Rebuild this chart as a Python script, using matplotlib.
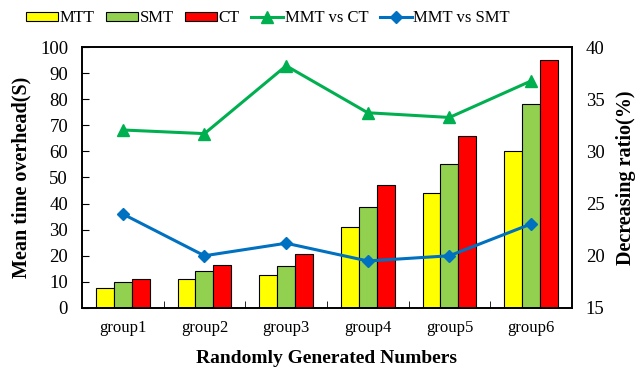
import numpy as np
import matplotlib
matplotlib.use('Agg')
import matplotlib.pyplot as plt

plt.rcParams['font.family'] = ['Liberation Serif', 'DejaVu Serif']

groups = ['group1', 'group2', 'group3', 'group4', 'group5', 'group6']
mtt = [7.5, 11, 12.5, 31, 44, 60]
smt = [10, 14, 16, 38.5, 55, 78]
ct = [11, 16.5, 20.5, 47, 66, 95]
mmt_vs_ct = [32.05, 31.7, 38.2, 33.7, 33.25, 36.75]
mmt_vs_smt = [24.0, 20.0, 21.2, 19.5, 20.0, 23.05]

fig = plt.figure(figsize=(6.43, 3.76), dpi=100)
ax = fig.add_axes([0.1275, 0.181, 0.762, 0.694])
ax2 = ax.twinx()

x = np.arange(len(groups))
w = 0.22
b1 = ax.bar(x - w, mtt, w, color='#FFFF00', edgecolor='black', linewidth=0.8, label='MTT')
b2 = ax.bar(x, smt, w, color='#92D050', edgecolor='black', linewidth=0.8, label='SMT')
b3 = ax.bar(x + w, ct, w, color='#FF0000', edgecolor='black', linewidth=0.8, label='CT')

l1, = ax2.plot(x, mmt_vs_ct, color='#00B050', lw=2.2, marker='^', ms=8, label='MMT vs CT')
l2, = ax2.plot(x, mmt_vs_smt, color='#0070C0', lw=2.2, marker='D', ms=6, label='MMT vs SMT')

ax.set_xlim(-0.5, 5.5)
ax.set_ylim(0, 100)
ax.set_yticks(range(0, 101, 10))
ax2.set_ylim(15, 40)
ax2.set_yticks(range(15, 41, 5))

ax.set_xticks(x)
ax.set_xticklabels(groups)
ax.set_xticks(np.arange(0.5, 5, 1), minor=True)
ax.tick_params(axis='x', which='major', length=0, labelsize=12, pad=9)
ax.tick_params(axis='x', which='minor', direction='in', length=5)
ax.tick_params(axis='y', direction='in', length=5, labelsize=13.5, pad=10)
ax2.tick_params(axis='y', direction='in', length=0, labelsize=13.5, pad=10)

for a in (ax, ax2):
    for s in a.spines.values():
        s.set_linewidth(1.2)

ax.set_xlabel('Randomly Generated Numbers', fontsize=14, fontweight='bold', labelpad=10)
ax.set_ylabel('Mean time overhead(S)', fontsize=14.5, fontweight='bold', labelpad=6)
ax2.set_ylabel('Decreasing ratio(%)', fontsize=14.5, fontweight='bold', labelpad=8)

fig.legend(handles=[b1, b2, b3, l1, l2], loc='upper center', bbox_to_anchor=(0.417, 1.012),
           ncol=5, frameon=False, fontsize=12, handlelength=1.9, handleheight=0.5,
           handletextpad=0.1, columnspacing=0.7, borderpad=0.4)

fig.savefig('out.png', dpi=100)
